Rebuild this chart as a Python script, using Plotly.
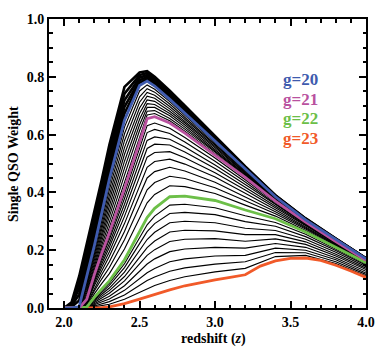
import plotly.graph_objects as go

# redshift grid
Z = [2.0, 2.05, 2.1, 2.15, 2.2, 2.25, 2.3, 2.4, 2.5, 2.55, 2.6, 2.7, 2.8, 3.0, 3.2, 3.4, 3.6, 3.8, 4.0]

# bright curves (g < 20), forming the dark band above g=20
BRIGHT_LINES = [
    [0, 0.020, 0.110, 0.220, 0.330, 0.445, 0.565, 0.765, 0.815, 0.820, 0.800, 0.752, 0.700, 0.595, 0.490, 0.390, 0.310, 0.240, 0.172],
    [0, 0.016, 0.089, 0.197, 0.307, 0.422, 0.541, 0.742, 0.806, 0.813, 0.794, 0.746, 0.695, 0.592, 0.488, 0.389, 0.309, 0.239, 0.172],
    [0, 0.012, 0.068, 0.174, 0.284, 0.399, 0.517, 0.719, 0.797, 0.806, 0.787, 0.740, 0.690, 0.588, 0.486, 0.388, 0.308, 0.238, 0.171],
    [0, 0.008, 0.047, 0.151, 0.261, 0.376, 0.494, 0.696, 0.788, 0.799, 0.781, 0.734, 0.684, 0.585, 0.483, 0.387, 0.307, 0.238, 0.171],
    [0, 0.004, 0.026, 0.128, 0.238, 0.353, 0.470, 0.673, 0.779, 0.792, 0.774, 0.728, 0.679, 0.581, 0.481, 0.386, 0.306, 0.237, 0.170],
]

G20 = [0, 0, 0.005, 0.105, 0.215, 0.330, 0.446, 0.650, 0.770, 0.785, 0.768, 0.722, 0.674, 0.578, 0.479, 0.385, 0.305, 0.236, 0.170]

LINES_20_21 = [
    [0, 0, 0.005, 0.098, 0.205, 0.316, 0.427, 0.626, 0.751, 0.772, 0.757, 0.714, 0.667, 0.573, 0.476, 0.384, 0.304, 0.235, 0.170],
    [0, 0, 0.004, 0.090, 0.195, 0.302, 0.409, 0.603, 0.731, 0.759, 0.747, 0.706, 0.660, 0.568, 0.474, 0.382, 0.303, 0.235, 0.169],
    [0, 0, 0.004, 0.083, 0.185, 0.288, 0.390, 0.579, 0.712, 0.746, 0.736, 0.697, 0.653, 0.564, 0.471, 0.381, 0.303, 0.234, 0.169],
    [0, 0, 0.003, 0.075, 0.175, 0.274, 0.372, 0.555, 0.692, 0.733, 0.726, 0.689, 0.646, 0.559, 0.468, 0.379, 0.302, 0.234, 0.168],
    [0, 0, 0.003, 0.068, 0.165, 0.260, 0.353, 0.532, 0.673, 0.720, 0.715, 0.681, 0.640, 0.554, 0.466, 0.378, 0.301, 0.233, 0.168],
    [0, 0, 0.002, 0.060, 0.155, 0.246, 0.334, 0.508, 0.653, 0.707, 0.704, 0.673, 0.633, 0.549, 0.463, 0.376, 0.300, 0.232, 0.167],
    [0, 0, 0.002, 0.053, 0.145, 0.232, 0.316, 0.484, 0.634, 0.694, 0.694, 0.665, 0.626, 0.544, 0.460, 0.375, 0.299, 0.232, 0.167],
    [0, 0, 0.001, 0.045, 0.135, 0.218, 0.297, 0.460, 0.614, 0.681, 0.683, 0.656, 0.619, 0.540, 0.457, 0.373, 0.299, 0.231, 0.166],
    [0, 0, 0.001, 0.038, 0.125, 0.204, 0.279, 0.437, 0.595, 0.668, 0.673, 0.648, 0.612, 0.535, 0.455, 0.372, 0.298, 0.231, 0.166],
]

G21 = [0, 0, 0, 0.030, 0.115, 0.190, 0.260, 0.413, 0.575, 0.655, 0.662, 0.640, 0.605, 0.530, 0.452, 0.370, 0.297, 0.230, 0.165]

LINES_21_22 = [
    [0, 0, 0, 0.028, 0.110, 0.181, 0.248, 0.396, 0.553, 0.631, 0.640, 0.622, 0.590, 0.519, 0.444, 0.366, 0.295, 0.229, 0.164],
    [0, 0, 0, 0.026, 0.104, 0.173, 0.237, 0.379, 0.532, 0.607, 0.618, 0.604, 0.574, 0.508, 0.436, 0.361, 0.292, 0.227, 0.164],
    [0, 0, 0, 0.024, 0.098, 0.163, 0.223, 0.359, 0.507, 0.580, 0.592, 0.584, 0.557, 0.495, 0.427, 0.357, 0.290, 0.226, 0.163],
    [0, 0, 0, 0.022, 0.092, 0.153, 0.210, 0.339, 0.482, 0.552, 0.567, 0.564, 0.540, 0.483, 0.418, 0.352, 0.287, 0.224, 0.163],
    [0, 0, 0, 0.019, 0.085, 0.142, 0.195, 0.317, 0.454, 0.522, 0.538, 0.541, 0.520, 0.468, 0.408, 0.346, 0.284, 0.222, 0.162],
    [0, 0, 0, 0.017, 0.077, 0.129, 0.179, 0.292, 0.424, 0.487, 0.507, 0.515, 0.498, 0.453, 0.397, 0.340, 0.280, 0.220, 0.161],
    [0, 0, 0, 0.014, 0.068, 0.116, 0.160, 0.265, 0.390, 0.450, 0.472, 0.487, 0.474, 0.435, 0.384, 0.333, 0.277, 0.218, 0.160],
    [0, 0, 0, 0.011, 0.059, 0.101, 0.140, 0.236, 0.352, 0.409, 0.434, 0.456, 0.448, 0.416, 0.371, 0.326, 0.273, 0.216, 0.159],
    [0, 0, 0, 0.007, 0.049, 0.085, 0.119, 0.204, 0.312, 0.364, 0.393, 0.423, 0.420, 0.396, 0.356, 0.318, 0.268, 0.213, 0.158],
]

G22 = [0, 0, 0, 0.003, 0.037, 0.066, 0.094, 0.167, 0.266, 0.313, 0.345, 0.385, 0.387, 0.372, 0.339, 0.309, 0.263, 0.210, 0.157]

LINES_22_23 = [
    [0, 0, 0, 0.003, 0.034, 0.060, 0.086, 0.153, 0.245, 0.288, 0.318, 0.356, 0.359, 0.347, 0.319, 0.296, 0.255, 0.204, 0.152],
    [0, 0, 0, 0.002, 0.030, 0.054, 0.078, 0.140, 0.224, 0.264, 0.292, 0.327, 0.331, 0.323, 0.299, 0.283, 0.247, 0.199, 0.148],
    [0, 0, 0, 0.002, 0.027, 0.048, 0.069, 0.124, 0.200, 0.237, 0.262, 0.295, 0.300, 0.295, 0.276, 0.268, 0.238, 0.193, 0.143],
    [0, 0, 0, 0.002, 0.023, 0.041, 0.060, 0.109, 0.177, 0.209, 0.232, 0.263, 0.269, 0.267, 0.254, 0.254, 0.229, 0.186, 0.138],
    [0, 0, 0, 0.002, 0.019, 0.035, 0.051, 0.094, 0.153, 0.182, 0.202, 0.230, 0.238, 0.240, 0.231, 0.239, 0.220, 0.180, 0.133],
    [0, 0, 0, 0.001, 0.015, 0.028, 0.041, 0.077, 0.127, 0.152, 0.170, 0.195, 0.204, 0.210, 0.207, 0.223, 0.210, 0.173, 0.127],
    [0, 0, 0, 0.001, 0.011, 0.021, 0.031, 0.061, 0.102, 0.122, 0.137, 0.160, 0.170, 0.180, 0.182, 0.207, 0.200, 0.167, 0.121],
    [0, 0, 0, 0.001, 0.007, 0.014, 0.022, 0.045, 0.078, 0.095, 0.107, 0.127, 0.139, 0.152, 0.160, 0.192, 0.191, 0.160, 0.116],
    [0, 0, 0, 0.000, 0.004, 0.008, 0.013, 0.030, 0.054, 0.067, 0.078, 0.095, 0.108, 0.125, 0.137, 0.178, 0.182, 0.154, 0.111],
]

# g=23 curve sampled on its own, finer grid (it has a hump near z=3.55)
Z23 = [2.0, 2.2, 2.25, 2.3, 2.4, 2.5, 2.6, 2.7, 2.8, 2.9, 3.0, 3.1, 3.2, 3.3, 3.4, 3.5, 3.6, 3.7, 3.8, 3.9, 4.0]
G23 = [0, 0, 0.001, 0.004, 0.015, 0.031, 0.048, 0.063, 0.077, 0.088, 0.097, 0.106, 0.115, 0.145, 0.163, 0.172, 0.173, 0.165, 0.148, 0.128, 0.106]

LABELS = ["g=20", "g=21", "g=22", "g=23"]
LABEL_Y = [0.790, 0.722, 0.654, 0.586]
COLORS = ["#3F5BAE", "#B9529F", "#6CBF48", "#F15A29"]

FONT = "Liberation Serif"

fig = go.Figure()

for ys in BRIGHT_LINES:
    fig.add_trace(go.Scatter(x=Z, y=ys, mode="lines", line=dict(color="black", width=2.6),
                             showlegend=False, hoverinfo="skip"))
for group in (LINES_20_21, LINES_21_22, LINES_22_23):
    for ys in group:
        fig.add_trace(go.Scatter(x=Z, y=ys, mode="lines", line=dict(color="black", width=1.15),
                                 showlegend=False, hoverinfo="skip"))

for xs, ys, col in zip([Z23, Z, Z, Z], [G23, G22, G21, G20], COLORS[::-1]):
    fig.add_trace(go.Scatter(x=xs, y=ys, mode="lines", line=dict(color=col, width=2.8),
                             showlegend=False, hoverinfo="skip"))

for txt, yv, col in zip(LABELS, LABEL_Y, COLORS):
    fig.add_annotation(x=3.44, y=yv, xref="x", yref="y", text="<b>" + txt + "</b>", showarrow=False,
                       xanchor="left", yanchor="middle",
                       font=dict(family=FONT, size=17, color=col))

fig.add_annotation(x=-0.112, y=0.5, xref="paper", yref="paper", text="<b>Single QSO Weight</b>",
                   showarrow=False, textangle=-90, xanchor="center", yanchor="middle",
                   font=dict(family=FONT, size=14, color="black"))
fig.add_annotation(x=0.519, y=-0.107, xref="paper", yref="paper", text="<b>redshift (<i>z</i>)</b>",
                   showarrow=False, xanchor="center", yanchor="middle",
                   font=dict(family=FONT, size=14, color="black"))

axis_common = dict(showgrid=False, zeroline=False, showline=True, linecolor="black", linewidth=2,
                   mirror="allticks", ticks="inside", ticklen=7, tickwidth=1.5, tickcolor="black",
                   tickfont=dict(family=FONT, size=14, color="black", weight="bold"))

fig.update_xaxes(range=[1.9, 4.0], tickvals=[2.0, 2.5, 3.0, 3.5, 4.0], tickformat=".1f",
                 minor=dict(dtick=0.1, tick0=2.0, ticks="inside", ticklen=3.5, tickwidth=1.5,
                            tickcolor="black", showgrid=False),
                 **axis_common)
fig.update_yaxes(range=[0, 1.0], tickvals=[0.0, 0.2, 0.4, 0.6, 0.8, 1.0], tickformat=".1f",
                 minor=dict(dtick=0.05, tick0=0.0, ticks="inside", ticklen=3.5, tickwidth=1.5,
                            tickcolor="black", showgrid=False),
                 **axis_common)

fig.update_layout(width=387, height=354, margin=dict(l=49, r=16, t=14, b=46),
                  plot_bgcolor="white", paper_bgcolor="white",
                  font=dict(family=FONT, color="black"))

fig.write_html("out.html", config={"displayModeBar": False},
               post_script="document.body.style.margin='0px';")
